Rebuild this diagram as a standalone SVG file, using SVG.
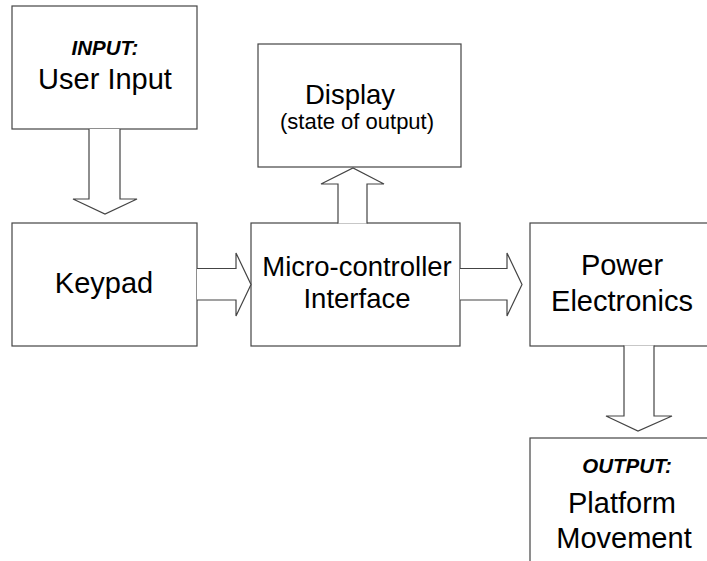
<svg xmlns="http://www.w3.org/2000/svg" width="707" height="561" viewBox="0 0 707 561">
<style>
.box{fill:#fff;stroke:#444;stroke-width:1.2}
.arr{fill:#fff;stroke:#444;stroke-width:1.2;stroke-linejoin:miter}
text{font-family:"Liberation Sans",Arial,sans-serif;fill:#000;text-anchor:middle}
.big{font-size:29px}
.mid{font-size:27.5px}
.sub{font-size:22px}
.lbl{font-size:20.5px;font-weight:bold;font-style:italic}
</style>
<rect width="707" height="561" fill="#fff"/>
<g id="user-input">
<rect class="box" x="12" y="6" width="185" height="123"/>
<text class="lbl" x="105" y="55">INPUT:</text>
<text class="big" x="105" y="89">User Input</text>
</g>
<g id="keypad">
<rect class="box" x="12" y="223" width="185" height="123"/>
<text class="big" x="104" y="293">Keypad</text>
</g>
<g id="display">
<rect class="box" x="258" y="44" width="203" height="123"/>
<text class="mid" x="350" y="104">Display</text>
<text class="sub" x="357" y="129">(state of output)</text>
</g>
<g id="microcontroller">
<rect class="box" x="251" y="223" width="209" height="123"/>
<text class="mid" x="357" y="276">Micro-controller</text>
<text class="mid" x="357" y="308">Interface</text>
</g>
<g id="power-electronics">
<rect class="box" x="530" y="223" width="185" height="123"/>
<text class="big" x="622" y="275">Power</text>
<text class="big" x="622" y="311">Electronics</text>
</g>
<g id="platform-movement">
<rect class="box" x="530" y="438" width="185" height="130"/>
<text class="lbl" x="627" y="473">OUTPUT:</text>
<text class="big" x="622" y="513">Platform</text>
<text class="big" x="624" y="548">Movement</text>
</g>
<g id="connectors">
<path class="arr" d="M89,129 V199 H73 L105,214 L137,199 H120 V129"/>
<path class="arr" d="M338,223.6 V184 H321 L353,168 L384,184 H367 V223.6"/>
<path class="arr" d="M197,268.5 H236 V253 L251,284.5 L236,316 V300 H197"/>
<path class="arr" d="M460,268.5 H507 V253 L522,284.5 L507,316 V300 H460"/>
<path class="arr" d="M624,345.4 V416 H606 L638,431 L672,416 H654 V345.4"/>
</g>
</svg>
